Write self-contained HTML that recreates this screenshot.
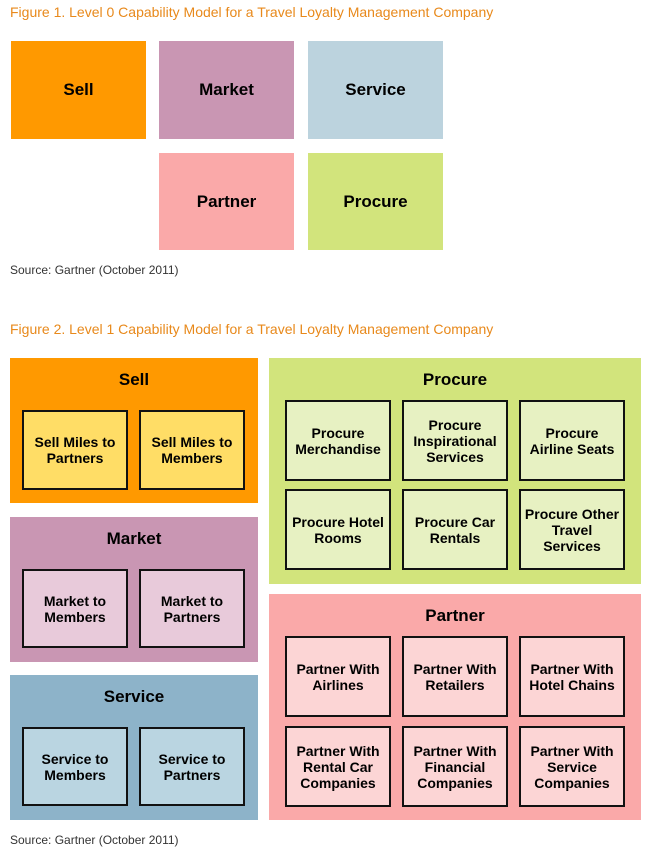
<html><head><style>
body{margin:0;width:655px;height:851px;background:#fff;font-family:"Liberation Sans",Arial,sans-serif;position:relative;overflow:hidden}
.a{position:absolute;box-sizing:border-box;display:flex;align-items:center;justify-content:center;text-align:center;font-weight:bold;color:#000}
.t{position:absolute;color:#e8891b;font-size:14px;left:10px}
.s{position:absolute;font-size:12px;color:#333;left:10px}
.o{position:absolute;box-sizing:border-box;font-weight:bold;font-size:17px;text-align:center;padding-top:12px}
.i{position:absolute;box-sizing:border-box;border:2px solid #111;display:flex;align-items:center;justify-content:center;text-align:center;font-weight:bold;font-size:14px;line-height:16px}
</style></head><body>
<div class="t" style="top:4px">Figure 1. Level 0 Capability Model for a Travel Loyalty Management Company</div>
<div class="a" style="left:11px;top:41px;width:135px;height:98px;background:#ff9900;font-size:17px">Sell</div>
<div class="a" style="left:159px;top:41px;width:135px;height:98px;background:#c996b3;font-size:17px">Market</div>
<div class="a" style="left:308px;top:41px;width:135px;height:98px;background:#bcd3de;font-size:17px">Service</div>
<div class="a" style="left:159px;top:153px;width:135px;height:97px;background:#faa9a9;font-size:17px">Partner</div>
<div class="a" style="left:308px;top:153px;width:135px;height:97px;background:#d2e47c;font-size:17px">Procure</div>
<div class="s" style="top:263px">Source: Gartner (October 2011)</div>
<div class="t" style="top:321px">Figure 2. Level 1 Capability Model for a Travel Loyalty Management Company</div>

<div class="o" style="left:10px;top:358px;width:248px;height:145px;background:#ff9900">Sell</div>
<div class="i" style="left:22px;top:410px;width:106px;height:80px;background:#ffdd66">Sell Miles to<br>Partners</div>
<div class="i" style="left:139px;top:410px;width:106px;height:80px;background:#ffdd66">Sell Miles to<br>Members</div>

<div class="o" style="left:10px;top:517px;width:248px;height:145px;background:#c996b3">Market</div>
<div class="i" style="left:22px;top:569px;width:106px;height:79px;background:#e8cada">Market to<br>Members</div>
<div class="i" style="left:139px;top:569px;width:106px;height:79px;background:#e8cada">Market to<br>Partners</div>

<div class="o" style="left:10px;top:675px;width:248px;height:145px;background:#8db3c9">Service</div>
<div class="i" style="left:22px;top:727px;width:106px;height:79px;background:#bad5e1">Service to<br>Members</div>
<div class="i" style="left:139px;top:727px;width:106px;height:79px;background:#bad5e1">Service to<br>Partners</div>

<div class="o" style="left:269px;top:358px;width:372px;height:226px;background:#d2e47c">Procure</div>
<div class="i" style="left:285px;top:400px;width:106px;height:81px;background:#e7f1c2">Procure<br>Merchandise</div>
<div class="i" style="left:402px;top:400px;width:106px;height:81px;background:#e7f1c2">Procure<br>Inspirational<br>Services</div>
<div class="i" style="left:519px;top:400px;width:106px;height:81px;background:#e7f1c2">Procure<br>Airline Seats</div>
<div class="i" style="left:285px;top:489px;width:106px;height:81px;background:#e7f1c2">Procure Hotel<br>Rooms</div>
<div class="i" style="left:402px;top:489px;width:106px;height:81px;background:#e7f1c2">Procure Car<br>Rentals</div>
<div class="i" style="left:519px;top:489px;width:106px;height:81px;background:#e7f1c2">Procure Other<br>Travel<br>Services</div>

<div class="o" style="left:269px;top:594px;width:372px;height:226px;background:#faa9a9">Partner</div>
<div class="i" style="left:285px;top:636px;width:106px;height:81px;background:#fcd5d5">Partner With<br>Airlines</div>
<div class="i" style="left:402px;top:636px;width:106px;height:81px;background:#fcd5d5">Partner With<br>Retailers</div>
<div class="i" style="left:519px;top:636px;width:106px;height:81px;background:#fcd5d5">Partner With<br>Hotel Chains</div>
<div class="i" style="left:285px;top:726px;width:106px;height:81px;background:#fcd5d5">Partner With<br>Rental Car<br>Companies</div>
<div class="i" style="left:402px;top:726px;width:106px;height:81px;background:#fcd5d5">Partner With<br>Financial<br>Companies</div>
<div class="i" style="left:519px;top:726px;width:106px;height:81px;background:#fcd5d5">Partner With<br>Service<br>Companies</div>

<div class="s" style="top:833px">Source: Gartner (October 2011)</div>
</body></html>
